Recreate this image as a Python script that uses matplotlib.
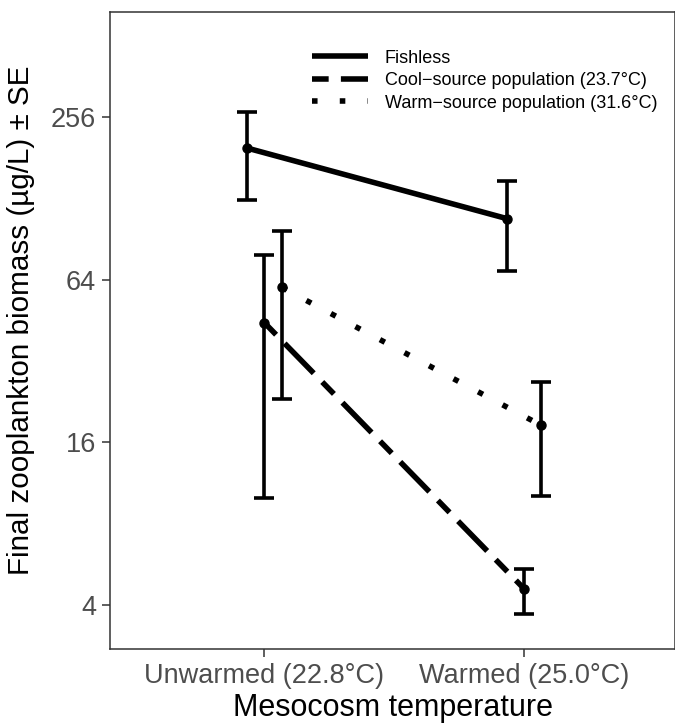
import matplotlib
matplotlib.use('Agg')
from matplotlib import pyplot as plt
import numpy as np

# Datos (escala log2)
temps = ['Unwarmed (22.8°C)', 'Warmed (25.0°C)']
groups = ['Fishless', 'Cool\u2212source population (23.7°C)', 'Warm\u2212source population (31.6°C)']

fishless_mean = [197, 108]
fishless_lo = [127, 69]
fishless_hi = [269, 149]

cool_mean = [44.4, 4.6]
cool_lo = [10.0, 3.7]
cool_hi = [79, 5.45]

warm_mean = [60, 18.5]
warm_lo = [23.2, 10.1]
warm_hi = [97, 26.9]

y_ticks = [4, 16, 64, 256]

plt.rcParams['font.family'] = ['Liberation Sans', 'DejaVu Sans']

fig = plt.figure(figsize=(6.75, 7.24), dpi=100)
ax = fig.add_axes([0.163, 0.1032, 0.837, 0.8806])

lw = 4.0
styles = ['-', (0, (3.0, 2.2, 7.5, 2.2)), (0, (1, 4.0))]
offsets = [-0.067, 0, 0.067]
means = [fishless_mean, cool_mean, warm_mean]
lows = [fishless_lo, cool_lo, warm_lo]
highs = [fishless_hi, cool_hi, warm_hi]

x = np.arange(1, len(temps) + 1)
for g, ls, off, m, lo, hi in zip(groups, styles, offsets, means, lows, highs):
    xs = x + off
    m = np.array(m)
    yerr = [m - np.array(lo), np.array(hi) - m]
    ax.errorbar(xs, m, yerr=yerr, fmt='none', ecolor='black', elinewidth=2.6,
                capsize=7, capthick=2.6, zorder=2)
    ax.plot(xs, m, color='black', linewidth=lw, linestyle=ls, label=g,
            solid_capstyle='butt', dash_capstyle='butt', zorder=3)
    ax.plot(xs, m, 'o', color='black', markersize=6.5, zorder=4)

ax.set_yscale('log', base=2)
ax.set_ylim(2.742, 630)
ax.set_yticks(y_ticks)
ax.set_yticklabels([str(t) for t in y_ticks])
ax.yaxis.set_minor_locator(matplotlib.ticker.NullLocator())
ax.set_xlim(0.405, 2.582)
ax.set_xticks(x)
ax.set_xticklabels(temps)

for s in ax.spines.values():
    s.set_linewidth(1.1)
    s.set_color('#333333')
ax.tick_params(axis='both', length=6, width=1.1, color='#333333',
               labelsize=19.5, labelcolor='#4D4D4D', pad=4)

ax.set_xlabel('Mesocosm temperature', fontsize=22, labelpad=3)
ax.set_ylabel('Final zooplankton biomass (µg/L) ± SE', fontsize=21.3)
ax.yaxis.set_label_coords(-0.133, 0.516)

leg = ax.legend(loc='upper left', bbox_to_anchor=(0.344, 0.9517), frameon=False,
                fontsize=13, handlelength=3.1, handletextpad=0.95,
                labelspacing=0.3, borderaxespad=0)

plt.savefig('out.png', dpi=100)
